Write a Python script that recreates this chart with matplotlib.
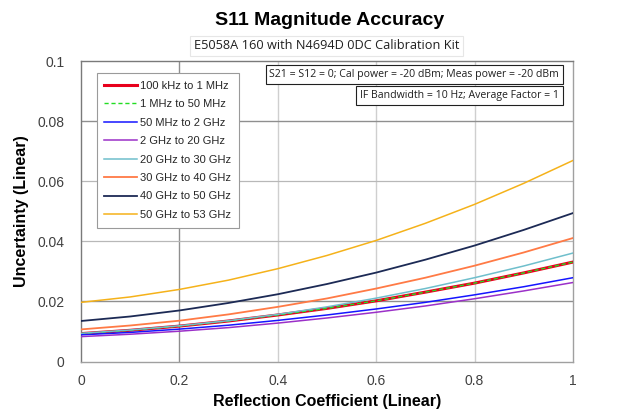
import matplotlib
matplotlib.use("Agg")
import matplotlib.pyplot as plt
from matplotlib.ticker import FuncFormatter

# Reflection coefficient sample points
gamma = [0.0, 0.1, 0.2, 0.3, 0.4, 0.5, 0.6, 0.7, 0.8, 0.9, 1.0]

# Magnitude uncertainty (linear) per frequency band
u_100k_1M   = [0.0093, 0.0104, 0.0118, 0.0135, 0.0155, 0.0177, 0.0202, 0.0231, 0.0261, 0.0295, 0.0331]
u_1M_50M    = [0.0093, 0.0104, 0.0118, 0.0135, 0.0155, 0.0177, 0.0202, 0.0231, 0.0261, 0.0295, 0.0331]
u_50M_2G    = [0.0089, 0.0097, 0.0108, 0.0121, 0.0137, 0.0155, 0.0175, 0.0197, 0.0222, 0.0249, 0.0279]
u_2G_20G    = [0.0083, 0.0091, 0.0101, 0.0113, 0.0128, 0.0145, 0.0164, 0.0185, 0.0209, 0.0235, 0.0263]
u_20G_30G   = [0.0094, 0.0105, 0.0119, 0.0136, 0.0157, 0.0182, 0.0211, 0.0243, 0.0279, 0.0318, 0.0361]
u_30G_40G   = [0.0107, 0.0120, 0.0136, 0.0157, 0.0182, 0.0210, 0.0243, 0.0279, 0.0319, 0.0363, 0.0411]
u_40G_50G   = [0.0135, 0.0150, 0.0170, 0.0195, 0.0224, 0.0258, 0.0296, 0.0339, 0.0386, 0.0438, 0.0494]
u_50G_53G   = [0.0197, 0.0215, 0.0240, 0.0271, 0.0309, 0.0353, 0.0403, 0.0460, 0.0523, 0.0593, 0.0669]

band_labels = ["100 kHz to 1 MHz", "1 MHz to 50 MHz", "50 MHz to 2 GHz", "2 GHz to 20 GHz",
               "20 GHz to 30 GHz", "30 GHz to 40 GHz", "40 GHz to 50 GHz", "50 GHz to 53 GHz"]

x_ticks = [0, 0.2, 0.4, 0.6, 0.8, 1.0]
y_ticks = [0, 0.02, 0.04, 0.06, 0.08, 0.1]

plt.rcParams['font.family'] = ['Liberation Sans', 'DejaVu Sans']

fig = plt.figure(figsize=(6.18, 4.18), dpi=100)
ax = fig.add_axes([0.131, 0.135, 0.796, 0.719])

styles = [
    dict(color="#e8001c", lw=2.2, ls="-"),
    dict(color="#22dd22", lw=1.0, ls=(0, (3, 2))),
    dict(color="#1515ff", lw=1.1, ls="-"),
    dict(color="#9b30c8", lw=1.1, ls="-"),
    dict(color="#6fbfcc", lw=1.1, ls="-"),
    dict(color="#ff7a45", lw=1.3, ls="-"),
    dict(color="#1c2a55", lw=1.3, ls="-"),
    dict(color="#f5b21a", lw=1.1, ls="-"),
]
series = [u_100k_1M, u_1M_50M, u_50M_2G, u_2G_20G, u_20G_30G, u_30G_40G, u_40G_50G, u_50G_53G]

for vals, lab, st in zip(series, band_labels, styles):
    ax.plot(gamma, vals, label=lab, zorder=3, **st)

ax.set_xlim(0, 1)
ax.set_ylim(0, 0.1)
ax.set_xticks(x_ticks)
ax.set_yticks(y_ticks)

fmt = FuncFormatter(lambda v, p: ("%g" % round(v, 3)))
ax.xaxis.set_major_formatter(fmt)
ax.yaxis.set_major_formatter(fmt)
ax.tick_params(length=0, labelsize=10, colors="#404040", pad=6)
ax.tick_params(axis="x", pad=9)
ax.tick_params(axis="y", pad=12)

# gridlines drawn individually so each can take its own shade
for xv in x_ticks[1:-1]:
    ax.axvline(xv, color="#8f8f8f" if xv == 0.2 else "#cfcfcf", lw=1.0, zorder=1)
for yv in y_ticks[1:-1]:
    ax.axhline(yv, color="#8f8f8f" if yv in (0.02, 0.08) else "#b8b8b8", lw=1.0 if yv in (0.02, 0.08) else 0.9, zorder=1)

for side in ["left", "top", "bottom", "right"]:
    ax.spines[side].set_color("#7a7a7a" if side in ("left", "top") else "#a0a0a0")
    ax.spines[side].set_linewidth(1.0)

ax.set_xlabel("Reflection Coefficient (Linear)", fontsize=11.5, fontweight="bold", labelpad=4)
ax.set_ylabel("Uncertainty (Linear)", fontsize=11.5, fontweight="bold", labelpad=6)

fig.text(0.534, 0.952, "S11 Magnitude Accuracy", ha="center", va="center",
         fontsize=14, fontweight="bold")
fig.text(0.528, 0.89, "E5058A 160 with N4694D 0DC Calibration Kit", ha="center", va="center",
         fontsize=9.2, family=["Open Sans", "DejaVu Sans"], color="#202020",
         bbox=dict(boxstyle="square,pad=0.3", fc="white", ec="#e6e6e6", lw=0.8))

ax.text(0.972, 0.955, "S21 = S12 = 0; Cal power = -20 dBm; Meas power = -20 dBm",
        transform=ax.transAxes, ha="right", va="center", fontsize=7.6,
        family=["Open Sans", "DejaVu Sans"], color="#202020", zorder=5,
        bbox=dict(boxstyle="square,pad=0.35", fc="white", ec="#202020", lw=0.8))
ax.text(0.972, 0.885, "IF Bandwidth = 10 Hz; Average Factor = 1",
        transform=ax.transAxes, ha="right", va="center", fontsize=7.6,
        family=["Open Sans", "DejaVu Sans"], color="#202020", zorder=5,
        bbox=dict(boxstyle="square,pad=0.35", fc="white", ec="#202020", lw=0.8))

leg = ax.legend(loc="upper left", bbox_to_anchor=(0.032, 0.96), fontsize=8,
                frameon=True, fancybox=False, edgecolor="#9a9a9a", framealpha=1,
                handlelength=2.9, handletextpad=0.3, labelspacing=0.76,
                borderpad=0.7, borderaxespad=0)
leg.get_frame().set_linewidth(0.8)
for t in leg.get_texts():
    t.set_color("#262626")

fig.savefig("out.png", dpi=100, facecolor="white")
